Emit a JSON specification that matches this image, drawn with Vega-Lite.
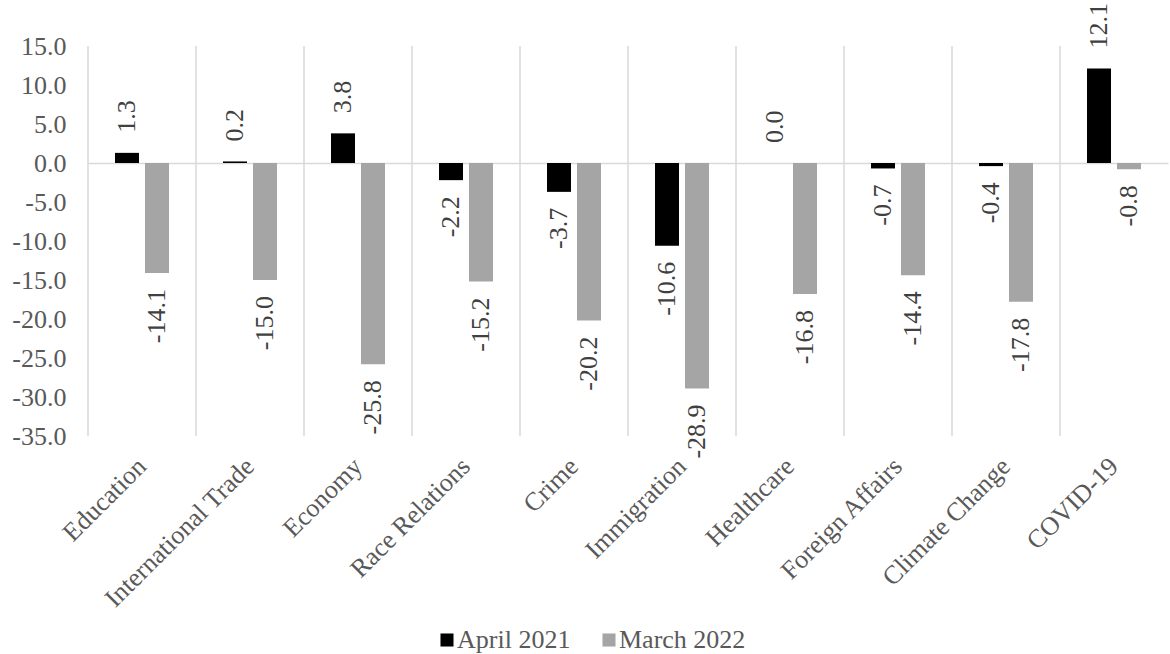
{
  "$schema": "https://vega.github.io/schema/vega-lite/v6.json",
  "width": 1080,
  "height": 390,
  "autosize": {"type": "none"},
  "padding": {"left": 88, "top": 46, "right": 2, "bottom": 218},
  "background": "white",
  "config": {
    "view": {"stroke": null},
    "font": "Liberation Serif, serif",
    "locale": {"number": {"decimal": ".", "thousands": ",", "grouping": [3], "currency": ["$", ""], "minus": "-"}}
  },
  "data": {
    "values": [
      {"topic": "Education", "period": "April 2021", "value": 1.3},
      {"topic": "Education", "period": "March 2022", "value": -14.1},
      {"topic": "International Trade", "period": "April 2021", "value": 0.2},
      {"topic": "International Trade", "period": "March 2022", "value": -15.0},
      {"topic": "Economy", "period": "April 2021", "value": 3.8},
      {"topic": "Economy", "period": "March 2022", "value": -25.8},
      {"topic": "Race Relations", "period": "April 2021", "value": -2.2},
      {"topic": "Race Relations", "period": "March 2022", "value": -15.2},
      {"topic": "Crime", "period": "April 2021", "value": -3.7},
      {"topic": "Crime", "period": "March 2022", "value": -20.2},
      {"topic": "Immigration", "period": "April 2021", "value": -10.6},
      {"topic": "Immigration", "period": "March 2022", "value": -28.9},
      {"topic": "Healthcare", "period": "April 2021", "value": 0.0},
      {"topic": "Healthcare", "period": "March 2022", "value": -16.8},
      {"topic": "Foreign Affairs", "period": "April 2021", "value": -0.7},
      {"topic": "Foreign Affairs", "period": "March 2022", "value": -14.4},
      {"topic": "Climate Change", "period": "April 2021", "value": -0.4},
      {"topic": "Climate Change", "period": "March 2022", "value": -17.8},
      {"topic": "COVID-19", "period": "April 2021", "value": 12.1},
      {"topic": "COVID-19", "period": "March 2022", "value": -0.8}
    ]
  },
  "layer": [
    {
      "transform": [{"filter": "datum.period === 'April 2021'"}],
      "mark": {"type": "rule", "color": "#d9d9d9", "strokeWidth": 1.5},
      "encoding": {
        "x": {"field": "topic", "type": "nominal", "sort": null, "bandPosition": 0}
      }
    },
    {
      "encoding": {
        "x": {
          "field": "topic",
          "type": "nominal",
          "sort": null,
          "scale": {"paddingInner": 0, "paddingOuter": 0},
          "axis": {
            "title": null,
            "labelAngle": -45,
            "labelAlign": "right",
            "labelBaseline": "middle",
            "labelFont": "Liberation Serif, serif",
            "labelFontSize": 26,
            "labelColor": "#595959",
            "labelPadding": 26,
            "labelLimit": 400,
            "labelOverlap": false,
            "ticks": false,
            "domain": false,
            "grid": false
          }
        },
        "xOffset": {
          "field": "period",
          "type": "nominal",
          "scale": {"paddingInner": 0.2, "paddingOuter": 0.9}
        },
        "y": {
          "field": "value",
          "type": "quantitative",
          "scale": {"domain": [-35, 15], "nice": false, "zero": false},
          "axis": {
            "title": null,
            "values": [15, 10, 5, 0, -5, -10, -15, -20, -25, -30, -35],
            "format": ".1f",
            "labelFont": "Liberation Serif, serif",
            "labelFontSize": 26,
            "labelColor": "#595959",
            "labelPadding": 22,
            "labelOverlap": false,
            "labelBound": false,
            "labelFlush": false,
            "ticks": false,
            "domain": false,
            "grid": true,
            "gridColor": "#d9d9d9",
            "gridWidth": 1.5,
            "gridOpacity": {"condition": {"test": "datum.value === 0", "value": 1}, "value": 0}
          }
        }
      },
      "layer": [
        {
          "mark": {"type": "bar"},
          "encoding": {
            "color": {
              "field": "period",
              "type": "nominal",
              "scale": {"domain": ["April 2021", "March 2022"], "range": ["#000000", "#a5a5a5"]},
              "legend": {
                "title": null,
                "orient": "none",
                "direction": "horizontal",
                "legendX": 346,
                "legendY": 581,
                "symbolType": "square",
                "symbolSize": 170,
                "symbolStrokeWidth": 0,
                "labelFont": "Liberation Serif, serif",
                "labelFontSize": 26,
                "labelColor": "#595959",
                "labelOffset": -3,
                "columnPadding": 25,
                "padding": 0
              }
            }
          }
        },
        {
          "transform": [{"filter": "datum.value >= 0"}],
          "mark": {"type": "text", "angle": 270, "align": "left", "baseline": "middle", "dx": 20, "fontSize": 26, "font": "Liberation Serif, serif", "color": "#404040"},
          "encoding": {
            "text": {"field": "value", "type": "quantitative", "format": ".1f"}
          }
        },
        {
          "transform": [{"filter": "datum.value < 0"}],
          "mark": {"type": "text", "angle": 270, "align": "right", "baseline": "middle", "dx": -16, "fontSize": 26, "font": "Liberation Serif, serif", "color": "#404040"},
          "encoding": {
            "text": {"field": "value", "type": "quantitative", "format": ".1f"}
          }
        }
      ]
    }
  ]
}
